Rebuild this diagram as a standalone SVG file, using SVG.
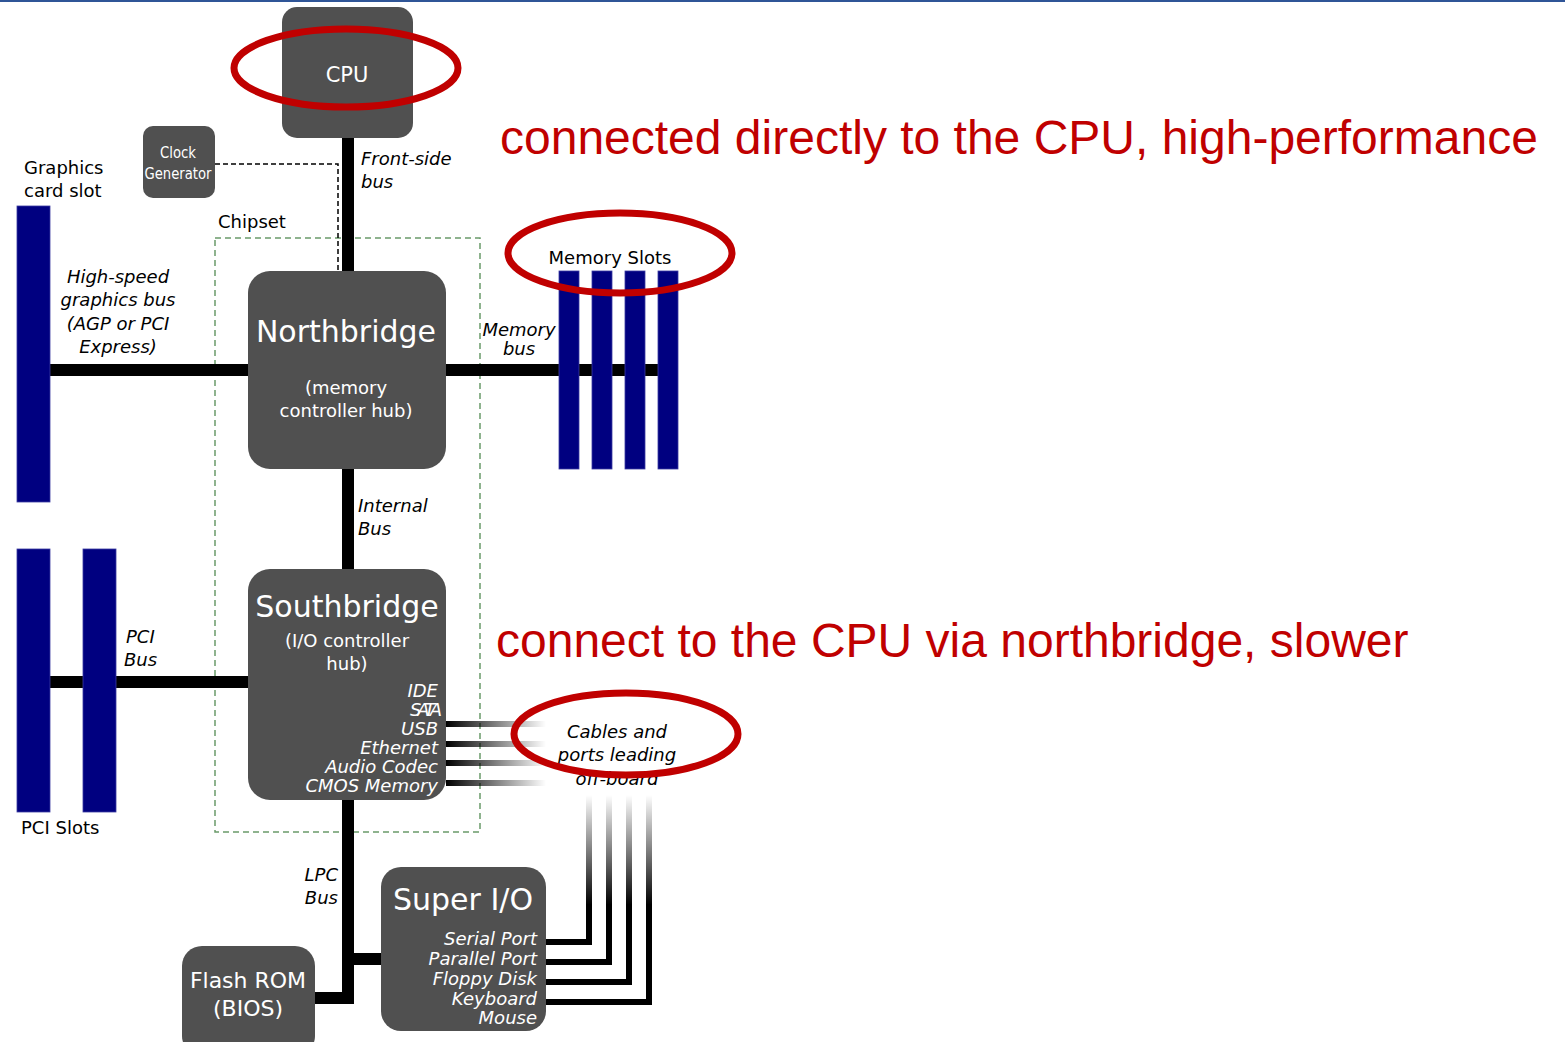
<svg xmlns="http://www.w3.org/2000/svg" width="1565" height="1042" viewBox="0 0 1565 1042">
<style>
.box{fill:#505050;}
.slot{fill:#000080;stroke:#3a3aa0;stroke-width:0.8;}
.bus{stroke:#000;stroke-width:12;fill:none;}
.wt{fill:#fff;font-family:"DejaVu Sans",Verdana,sans-serif;}
.bk{fill:#000;font-family:"DejaVu Sans",Verdana,sans-serif;font-size:18px;}
.it{font-style:italic;}
.red{fill:none;stroke:#c00000;stroke-width:7;}
.note{fill:#c00000;font-family:"Liberation Sans",Arial,sans-serif;font-size:48px;}
</style>
<defs>
<linearGradient id="fadeH" x1="0" y1="0" x2="1" y2="0">
<stop offset="0" stop-color="#000"/>
<stop offset="1" stop-color="#000" stop-opacity="0"/>
</linearGradient>
<linearGradient id="fadeV" x1="0" y1="0" x2="0" y2="1">
<stop offset="0" stop-color="#000" stop-opacity="0"/>
<stop offset="1" stop-color="#000"/>
</linearGradient>
</defs>
<rect width="1565" height="1042" fill="#fff"/>
<rect x="0" y="0" width="1565" height="2" fill="#2f5597"/>

<g id="connectors">
<rect x="215" y="238" width="265" height="594" fill="none" stroke="#6a9a6a" stroke-width="1.5" stroke-dasharray="6,4"/>
<line class="bus" x1="348" y1="138" x2="348" y2="271"/>
<path d="M215,164 H338 V271" fill="none" stroke="#000" stroke-width="1.5" stroke-dasharray="5,3"/>
<line class="bus" x1="50" y1="370" x2="248" y2="370"/>
<line class="bus" x1="446" y1="370" x2="659" y2="370"/>
<line class="bus" x1="348" y1="469" x2="348" y2="569"/>
<line class="bus" x1="50" y1="682" x2="248" y2="682"/>
<path class="bus" d="M348,800 V1003 M342,959 H381 M315,998 H354"/>
<rect x="446" y="721" width="100" height="6" fill="url(#fadeH)"/>
<rect x="446" y="741" width="100" height="6" fill="url(#fadeH)"/>
<rect x="446" y="760" width="100" height="6" fill="url(#fadeH)"/>
<rect x="446" y="780" width="100" height="6" fill="url(#fadeH)"/>
<rect x="586" y="795" width="6" height="110" fill="url(#fadeV)"/>
<rect x="606" y="795" width="6" height="110" fill="url(#fadeV)"/>
<rect x="626" y="795" width="6" height="110" fill="url(#fadeV)"/>
<rect x="646" y="795" width="6" height="110" fill="url(#fadeV)"/>
<path d="M546,942 H589 V904 M546,962 H609 V904 M546,982 H629 V904 M546,1002 H649 V904" fill="none" stroke="#000" stroke-width="6"/>
</g>

<g id="cpu">
<rect class="box" x="282" y="7" width="131" height="131" rx="15"/>
<text class="wt" x="347" y="82" font-size="21" text-anchor="middle">CPU</text>
</g>
<g id="clock">
<rect class="box" x="143" y="126" width="72" height="72" rx="10"/>
<text class="wt" x="178" y="158" font-size="16" text-anchor="middle" textLength="36" lengthAdjust="spacingAndGlyphs">Clock</text>
<text class="wt" x="178" y="179" font-size="16" text-anchor="middle" textLength="67" lengthAdjust="spacingAndGlyphs">Generator</text>
</g>
<g id="northbridge">
<rect class="box" x="248" y="271" width="198" height="198" rx="22"/>
<text class="wt" x="346" y="342" font-size="30" text-anchor="middle">Northbridge</text>
<text class="wt" x="346" y="394" font-size="18" text-anchor="middle">(memory</text>
<text class="wt" x="346" y="417" font-size="18" text-anchor="middle">controller hub)</text>
</g>
<g id="southbridge">
<rect class="box" x="248" y="569" width="198" height="231" rx="22"/>
<text class="wt" x="347" y="617" font-size="30" text-anchor="middle">Southbridge</text>
<text class="wt" x="347" y="647" font-size="18" text-anchor="middle">(I/O controller</text>
<text class="wt" x="347" y="670" font-size="18" text-anchor="middle">hub)</text>
<g class="wt it" font-size="18" text-anchor="end">
<text x="438" y="697">IDE</text>
<text x="438" y="716" letter-spacing="-4">SATA</text>
<text x="438" y="735">USB</text>
<text x="438" y="754">Ethernet</text>
<text x="438" y="773">Audio Codec</text>
<text x="438" y="792">CMOS Memory</text>
</g>
</g>
<g id="superio">
<rect class="box" x="381" y="867" width="165" height="164" rx="20"/>
<text class="wt" x="463" y="910" font-size="30" text-anchor="middle">Super I/O</text>
<g class="wt it" font-size="18" text-anchor="end">
<text x="537" y="945">Serial Port</text>
<text x="537" y="965">Parallel Port</text>
<text x="537" y="985">Floppy Disk</text>
<text x="537" y="1005">Keyboard</text>
<text x="537" y="1024">Mouse</text>
</g>
</g>
<g id="flashrom">
<rect class="box" x="182" y="946" width="133" height="110" rx="20"/>
<text class="wt" x="248" y="988" font-size="22" text-anchor="middle">Flash ROM</text>
<text class="wt" x="248" y="1016" font-size="22" text-anchor="middle">(BIOS)</text>
</g>
<g id="graphics-slot">
<rect class="slot" x="17" y="206" width="33" height="296"/>
<text class="bk" x="24" y="174">Graphics</text>
<text class="bk" x="24" y="197">card slot</text>
</g>
<g id="memory-slots">
<rect class="slot" x="559" y="271" width="20" height="198"/>
<rect class="slot" x="592" y="271" width="20" height="198"/>
<rect class="slot" x="625" y="271" width="20" height="198"/>
<rect class="slot" x="658" y="271" width="20" height="198"/>
<text class="bk" x="610" y="264" text-anchor="middle">Memory Slots</text>
</g>
<g id="pci-slots">
<rect class="slot" x="17" y="549" width="33" height="263"/>
<rect class="slot" x="83" y="549" width="33" height="263"/>
<text class="bk" x="21" y="834">PCI Slots</text>
</g>

<g id="labels">
<text class="bk" x="218" y="228">Chipset</text>
<text class="bk it" x="361" y="165">Front-side</text>
<text class="bk it" x="361" y="188">bus</text>
<g class="bk it" text-anchor="middle">
<text x="118" y="283">High-speed</text>
<text x="118" y="306">graphics bus</text>
<text x="118" y="330">(AGP or PCI</text>
<text x="118" y="353">Express)</text>
<text x="519" y="336">Memory</text>
<text x="519" y="355">bus</text>
<text x="617" y="738">Cables and</text>
<text x="617" y="761">ports leading</text>
<text x="617" y="785">off-board</text>
</g>
<text class="bk it" x="358" y="512">Internal</text>
<text class="bk it" x="358" y="535">Bus</text>
<text class="bk it" x="126" y="643">PCI</text>
<text class="bk it" x="124" y="666">Bus</text>
<text class="bk it" x="338" y="881" text-anchor="end">LPC</text>
<text class="bk it" x="338" y="904" text-anchor="end">Bus</text>
</g>

<g id="annotations">
<ellipse class="red" cx="346" cy="68" rx="112" ry="39"/>
<ellipse class="red" cx="620" cy="253" rx="112" ry="40"/>
<ellipse class="red" cx="626" cy="734" rx="112" ry="41"/>
<text class="note" x="500" y="154">connected directly to the CPU, high-performance</text>
<text class="note" x="496" y="657">connect to the CPU via northbridge, slower</text>
</g>
</svg>
